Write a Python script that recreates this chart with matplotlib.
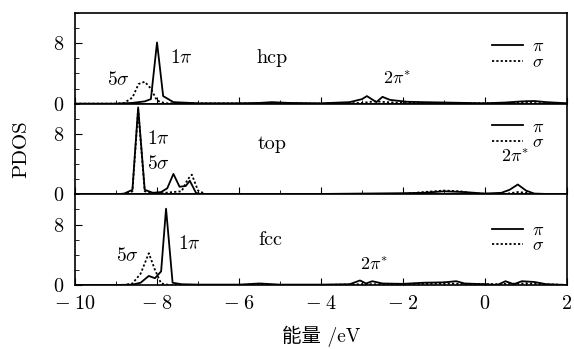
import matplotlib
matplotlib.use("Agg")
import matplotlib.pyplot as plt
from matplotlib.ticker import MultipleLocator, FuncFormatter

plt.rcParams['font.family'] = ['cmr10', 'DejaVu Serif']
plt.rcParams['mathtext.fontset'] = 'cm'
plt.rcParams['axes.formatter.use_mathtext'] = True

# energy grid points (eV) and PDOS values
hcp_pi_e = [-10, -9, -8.6, -8.3, -8.15, -8.0, -7.85, -7.6, -7.0, -6.0, -5.5, -5.2, -4.8, -4.0,
            -3.3, -3.0, -2.88, -2.65, -2.5, -2.32, -2.15, -1.9, -1.5, -1.0, -0.5, 0.0, 0.5,
            0.9, 1.2, 1.5, 2.0]
hcp_pi = [0, 0, 0.1, 0.3, 0.6, 8.1, 1.0, 0.2, 0.05, 0.05, 0.1, 0.2, 0.1, 0.05,
          0.2, 0.6, 1.0, 0.2, 0.9, 0.5, 0.4, 0.25, 0.2, 0.15, 0.1, 0.05, 0.15,
          0.3, 0.35, 0.2, 0.05]
hcp_sig_e = [-10, -9.0, -8.8, -8.6, -8.45, -8.3, -8.15, -8.0, -7.8, -4.0, -3.0, -2.7, -2.4,
             -2.0, 0.0, 1.0, 2.0]
hcp_sig = [0, 0, 0.1, 0.8, 2.6, 2.9, 2.0, 0.4, 0.05, 0.0, 0.1, 0.3, 0.2,
           0.1, 0.05, 0.1, 0.0]

top_pi_e = [-10, -9, -8.8, -8.6, -8.46, -8.3, -8.1, -7.9, -7.75, -7.6, -7.45, -7.3, -7.2,
            -7.05, -6.9, -6.0, -4.0, -3.0, -2.0, -1.5, -1.0, -0.5, 0, 0.4, 0.6, 0.8, 1.0,
            1.2, 1.5, 2]
top_pi = [0, 0, 0.1, 0.6, 11.5, 0.6, 0.2, 0.3, 0.8, 2.7, 1.0, 1.1, 1.8,
          0.2, 0.0, 0.05, 0.05, 0.1, 0.15, 0.2, 0.4, 0.3, 0.1, 0.2, 0.6, 1.3, 0.5,
          0.1, 0.05, 0.0]
top_sig_e = [-10, -8.8, -8.6, -8.46, -8.3, -8.0, -7.8, -7.6, -7.4, -7.25, -7.15, -7.0, -6.8,
             -4, -2, -1.5, -1.0, -0.6, -0.3, 0.5, 0.8, 1.0, 1.3, 2]
top_sig = [0, 0, 0.4, 11.2, 0.4, 0.1, 0.2, 0.3, 0.4, 2.0, 2.6, 0.5, 0,
           0, 0.05, 0.3, 0.5, 0.4, 0.1, 0.05, 0.3, 0.2, 0, 0]

fcc_pi_e = [-10, -9, -8.6, -8.4, -8.2, -8.05, -7.9, -7.78, -7.62, -7.4, -7, -6, -5.5, -5.0,
            -4, -3.3, -3.05, -2.9, -2.75, -2.5, -2.0, -1.5, -1.0, -0.7, -0.5, 0, 0.3, 0.5,
            0.7, 0.9, 1.2, 1.5, 2]
fcc_pi = [0, 0, 0.05, 0.3, 1.2, 0.9, 1.8, 10.1, 0.3, 0.1, 0.05, 0.05, 0.2, 0.05,
          0.05, 0.1, 0.6, 0.2, 0.5, 0.2, 0.15, 0.3, 0.35, 0.5, 0.2, 0.1, 0.0, 0.5,
          0.1, 0.5, 0.4, 0.1, 0]
fcc_sig_e = [-10, -8.8, -8.6, -8.4, -8.2, -8.05, -7.9, -7.7, -4, -3, -2, -1, 0, 1, 2]
fcc_sig = [0, 0, 0.2, 1.5, 4.2, 2.0, 0.2, 0, 0, 0.1, 0.1, 0.2, 0.1, 0.2, 0]

sites = ['hcp', 'top', 'fcc']
pi_e = [hcp_pi_e, top_pi_e, fcc_pi_e]
pi_v = [hcp_pi, top_pi, fcc_pi]
sig_e = [hcp_sig_e, top_sig_e, fcc_sig_e]
sig_v = [hcp_sig, top_sig, fcc_sig]

# annotation positions (x, y) per panel
lab_5s = [(-8.95, 3.1), (-7.97, 4.0), (-8.73, 3.8)]
lab_1p = [(-7.4, 6.0), (-7.97, 7.3), (-7.2, 5.4)]
lab_site = [(-5.2, 6.0), (-5.2, 6.6), (-5.25, 6.0)]
lab_2p = [(-2.15, 3.4), (0.73, 5.1), (-2.7, 2.7)]
leg_y = [0.545, 0.66, 0.52]


def tick_fmt(v, pos):
    # TeX style minus with a little gap after it
    if v < 0:
        return r'$-\;%d$' % abs(v)
    return r'$%d$' % v


fig = plt.figure(figsize=(5.74, 3.49), dpi=100)
gs = fig.add_gridspec(3, 1, left=0.1307, right=0.9878, top=0.9628, bottom=0.1834, hspace=0)
axes = [fig.add_subplot(gs[i]) for i in range(3)]

for i, ax in enumerate(axes):
    ax.plot(pi_e[i], pi_v[i], color='black', lw=1.3, label=r'$\pi$')
    ax.plot(sig_e[i], sig_v[i], color='black', lw=1.3, ls=(0, (1.2, 1.2)), label=r'$\sigma$')
    ax.set_xlim(-10, 2)
    ax.set_ylim(0, 12)
    ax.set_yticks([0, 8])
    ax.yaxis.set_minor_locator(MultipleLocator(2))
    ax.xaxis.set_major_locator(MultipleLocator(2))
    ax.xaxis.set_minor_locator(MultipleLocator(1))
    ax.xaxis.set_major_formatter(FuncFormatter(tick_fmt))
    ax.tick_params(which='both', direction='in', labelsize=14.5, top=False, right=False)
    ax.tick_params(which='major', length=5)
    ax.tick_params(which='minor', length=3)
    ax.tick_params(axis='x', pad=7)
    ax.tick_params(axis='y', pad=8)
    for sp in ax.spines.values():
        sp.set_linewidth(1.2)
    if i < 2:
        ax.tick_params(labelbottom=False)

    fs = 14
    ax.text(*lab_5s[i], r'$5\sigma$', fontsize=fs, ha='center', va='center')
    ax.text(*lab_1p[i], r'$1\pi$', fontsize=fs, ha='center', va='center')
    ax.text(*lab_site[i], sites[i], fontsize=14.5, ha='center', va='center')
    ax.text(*lab_2p[i], r'$2\pi^{*}$', fontsize=13, ha='center', va='center')
    ax.legend(loc='center left', bbox_to_anchor=(0.848, leg_y[i]), frameon=False, fontsize=13,
              handlelength=1.7, handletextpad=0.5, labelspacing=0.0, borderpad=0,
              borderaxespad=0)

axes[2].set_xlabel('能量 /eV', family=['cmr10', 'Noto Sans CJK SC'], fontsize=14, labelpad=9.5)
fig.text(0.037, 0.573, 'PDOS', rotation=90, ha='center', va='center', fontsize=15)

fig.savefig('out.png', dpi=100)
